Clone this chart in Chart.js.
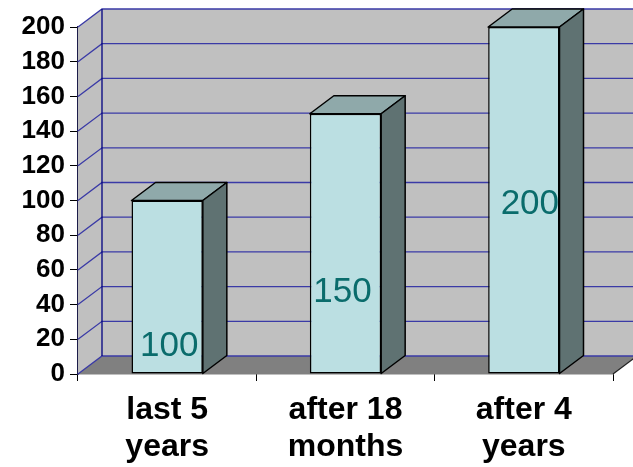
<!DOCTYPE html>
<html>
<head>
<meta charset="utf-8">
<script src="https://cdn.jsdelivr.net/npm/chart.js@4/dist/chart.umd.min.js"></script>
<style>
  html, body { margin: 0; padding: 0; background: #fff; }
</style>
</head>
<body>
<canvas id="graph" width="633" height="467"></canvas>
<script>
const categories = [['last 5', 'years'], ['after 18', 'months'], ['after 4', 'years']];
const values = [100, 150, 200];
const yTicks = [0, 20, 40, 60, 80, 100, 120, 140, 160, 180, 200];

// depth of the 3d box (pixels)
const DX = 24, DY = -18;
// where the value labels sit (axis units) and their sideways nudge, as in the original
const labelLevels = [16, 47, 98];
const labelShift = [2, -3, 6];

const FONT = "'Liberation Sans', Arial, sans-serif";

function poly(ctx, pts, fill, stroke, lw) {
	ctx.beginPath();
	ctx.moveTo(pts[0][0], pts[0][1]);
	for (let i = 1; i < pts.length; i++) ctx.lineTo(pts[i][0], pts[i][1]);
	ctx.closePath();
	if (fill) { ctx.fillStyle = fill; ctx.fill(); }
	if (stroke) { ctx.strokeStyle = stroke; ctx.lineWidth = lw || 1; ctx.stroke(); }
}

const box3d = {
	id: 'box3d',
	beforeDatasetsDraw(chart) {
		const { ctx, chartArea: a, scales: { y } } = chart;
		ctx.save();
		// back wall
		poly(ctx, [[a.left + DX, a.top + DY], [a.right + DX, a.top + DY], [a.right + DX, a.bottom + DY], [a.left + DX, a.bottom + DY]], '#c0c0c0');
		// side wall
		poly(ctx, [[a.left, a.top], [a.left + DX, a.top + DY], [a.left + DX, a.bottom + DY], [a.left, a.bottom]], '#c0c0c0');
		// floor
		poly(ctx, [[a.left, a.bottom], [a.right, a.bottom], [a.right + DX, a.bottom + DY], [a.left + DX, a.bottom + DY]], '#808080');
		ctx.beginPath();
		ctx.moveTo(a.right, a.bottom);
		ctx.lineTo(a.right + DX, a.bottom + DY);
		ctx.strokeStyle = '#222';
		ctx.lineWidth = 1.2;
		ctx.stroke();
		// gridlines on side and back wall
		ctx.strokeStyle = '#3a3aa6';
		ctx.lineWidth = 1.3;
		yTicks.forEach((v) => {
			const py = y.getPixelForValue(v);
			ctx.beginPath();
			ctx.moveTo(a.left, py);
			ctx.lineTo(a.left + DX, py + DY);
			ctx.lineTo(a.right + DX, py + DY);
			ctx.stroke();
		});
		// back wall left edge
		ctx.strokeStyle = '#000080';
		ctx.beginPath();
		ctx.moveTo(a.left + DX, a.top + DY);
		ctx.lineTo(a.left + DX, a.bottom + DY);
		ctx.stroke();
		ctx.restore();
	},
	afterDatasetsDraw(chart) {
		const { ctx, scales: { y } } = chart;
		const bars = chart.getDatasetMeta(0).data;
		ctx.save();
		ctx.lineJoin = 'round';
		bars.forEach((bar, i) => {
			const l = bar.x - bar.width / 2, r = bar.x + bar.width / 2;
			const t = bar.y, b = bar.base;
			poly(ctx, [[l, t], [r, t], [r + DX, t + DY], [l + DX, t + DY]], '#8fa9aa', '#000', 1.5);
			poly(ctx, [[r, t], [r + DX, t + DY], [r + DX, b + DY], [r, b]], '#5f7272', '#000', 1.5);
			ctx.fillStyle = '#0a6c6c';
			ctx.font = '35px ' + FONT;
			ctx.textAlign = 'center';
			ctx.textBaseline = 'middle';
			ctx.fillText(String(values[i]), bar.x + labelShift[i], y.getPixelForValue(labelLevels[i]));
		});
		ctx.restore();
	}
};

const data = {
	labels: categories,
	datasets: [
		{
			data: values,
			backgroundColor: '#bbdfe2',
			borderColor: '#000',
			borderWidth: 1.5,
			borderSkipped: false,
			barPercentage: 0.4,
			categoryPercentage: 1,
		},
	],
};

const config = {
	type: 'bar',
	data: data,
	options: {
		responsive: false,
		animation: false,
		layout: { padding: { top: 27, right: 20, left: 0, bottom: 0 } },
		scales: {
			x: {
				z: 1,
				afterFit: (s) => { s.height = 93; },
				grid: { drawOnChartArea: false, tickLength: 7, color: '#000', lineWidth: 1 },
				border: { color: '#000', width: 1.3 },
				ticks: {
					color: '#000',
					padding: 11,
					font: { family: FONT, size: 32, weight: 'bold', lineHeight: 1.15 },
				},
			},
			y: {
				z: 1,
				min: 0,
				max: 200,
				afterFit: (s) => { s.width = 78; },
				afterBuildTicks: (s) => { s.ticks = yTicks.map((v) => ({ value: v })); },
				grid: { drawOnChartArea: false, tickLength: 8, color: '#000', lineWidth: 1 },
				border: { color: '#1c1c4a', width: 1.5 },
				ticks: {
					color: '#000',
					padding: 5,
					font: { family: FONT, size: 26, weight: 'bold' },
				},
			},
		},
		plugins: {
			legend: { display: false },
			tooltip: { enabled: false },
		},
	},
	plugins: [box3d],
};

const c = new Chart(document.getElementById('graph'), config);
</script>
</body>
</html>
